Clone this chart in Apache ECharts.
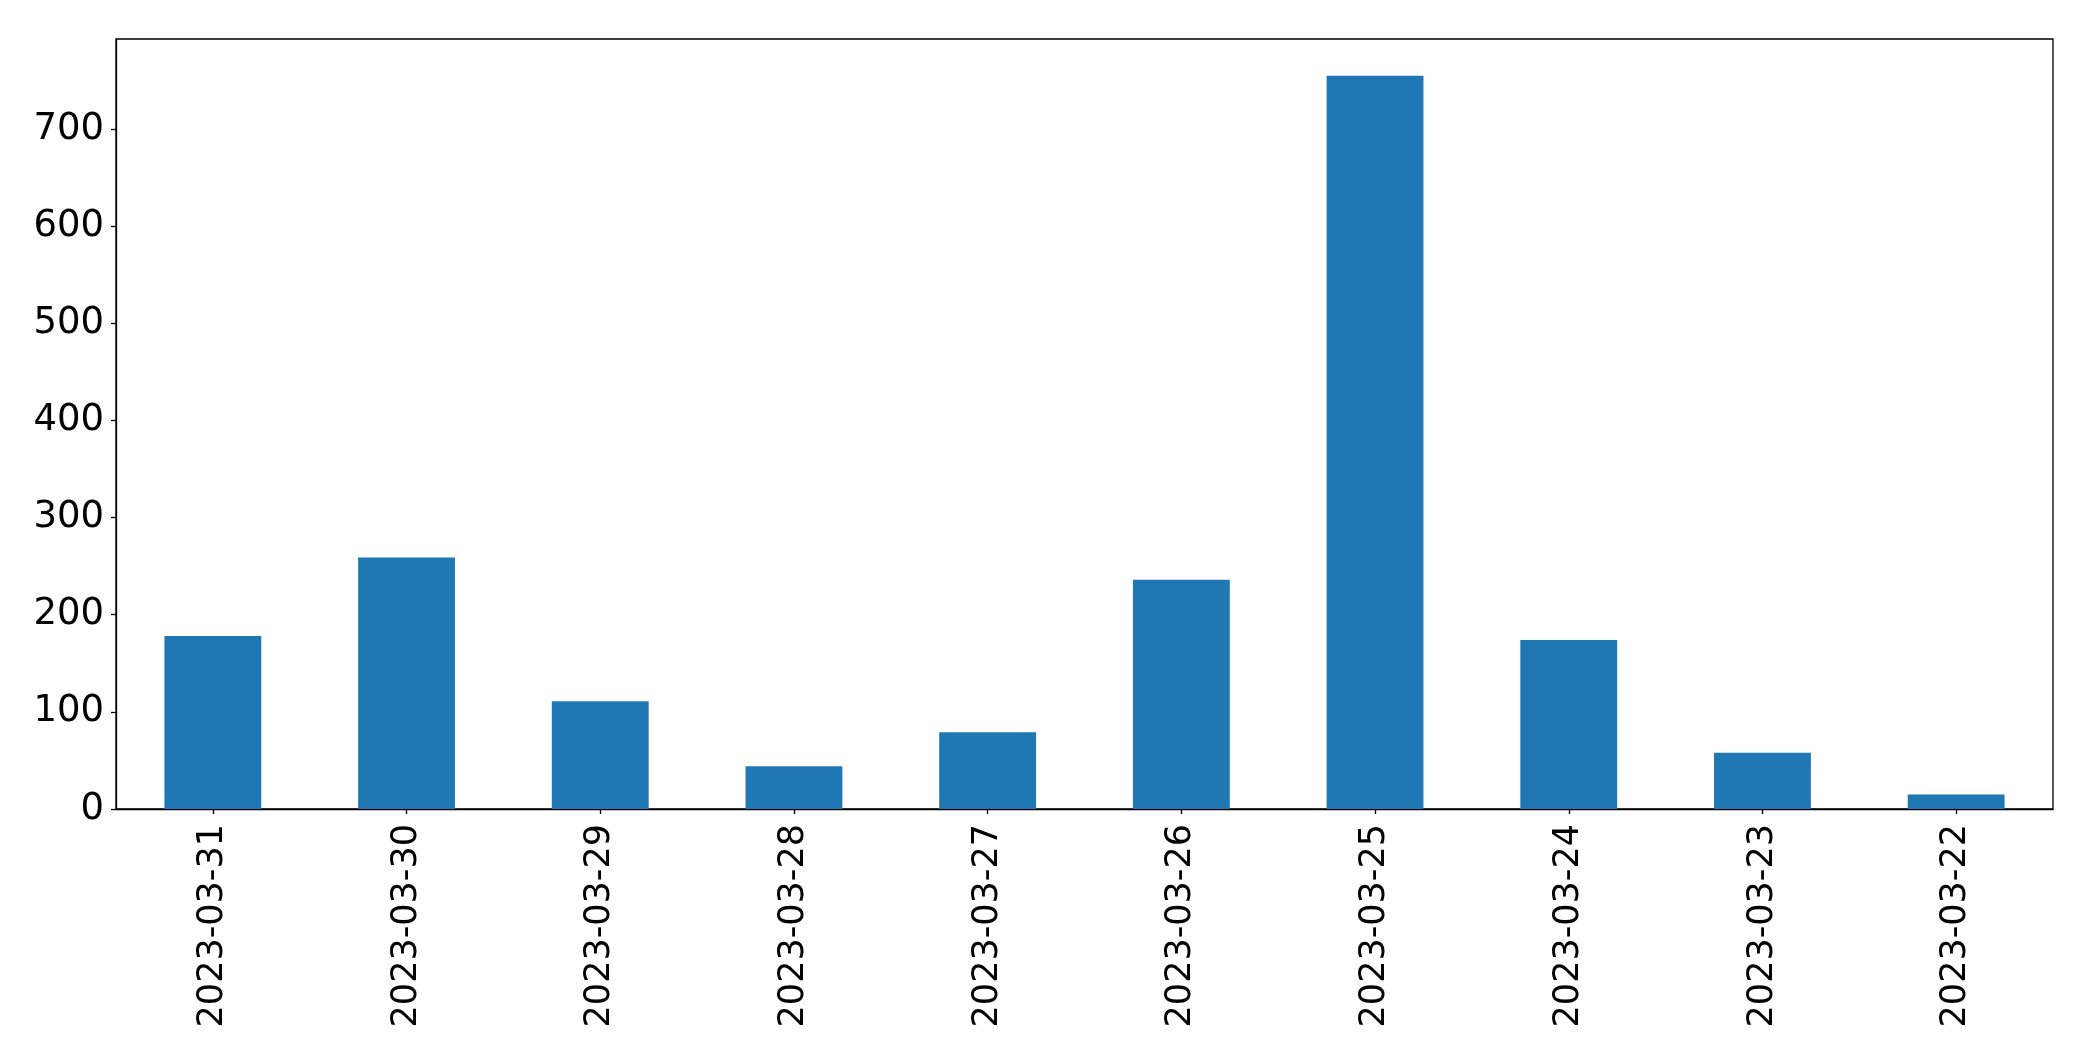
<!DOCTYPE html>
<html>
<head>
<meta charset="utf-8">
<script src="https://cdn.jsdelivr.net/npm/echarts@6/dist/echarts.min.js"></script>
<style>html,body{margin:0;padding:0;background:#fff}#c{width:2093px;height:1061px}</style>
</head>
<body>
<div id="c"></div>
<script>
const categories = ["2023-03-31","2023-03-30","2023-03-29","2023-03-28","2023-03-27","2023-03-26","2023-03-25","2023-03-24","2023-03-23","2023-03-22"];
const values = [178, 259, 111, 44, 79, 236, 755, 174, 58, 15];
const yTicks = [0, 100, 200, 300, 400, 500, 600, 700];

const chart = echarts.init(document.getElementById('c'), null, {renderer: 'canvas'});
const font = 'DejaVu Sans';
chart.setOption({
  animation: false,
  backgroundColor: '#ffffff',
  grid: {left: 116, right: 40, top: 39, bottom: 252, show: true, borderColor: '#000', borderWidth: 1.3, backgroundColor: 'transparent', containLabel: false},
  xAxis: {
    type: 'category',
    data: categories,
    axisLine: {lineStyle: {color: '#000', width: 1.3}},
    axisTick: {show: true, alignWithLabel: true, length: 5, lineStyle: {color: '#000', width: 1.3}},
    axisLabel: {rotate: 90, margin: 15, color: '#000', fontFamily: font, fontSize: 35, interval: 0}
  },
  yAxis: {
    type: 'value',
    min: 0,
    max: function (v) { return v.max * 1.05; },
    interval: 100,
    axisLine: {show: true, lineStyle: {color: '#000', width: 1.3}},
    axisTick: {show: true, length: 5, customValues: yTicks, lineStyle: {color: '#000', width: 1.3}},
    splitLine: {show: false},
    axisLabel: {margin: 12, color: '#000', fontFamily: font, fontSize: 37, customValues: yTicks,
      formatter: function (v) { return String(v); }}
  },
  series: [{
    type: 'bar',
    data: values,
    barWidth: '50%',
    itemStyle: {color: '#1f77b4'}
  }]
});
</script>
</body>
</html>
